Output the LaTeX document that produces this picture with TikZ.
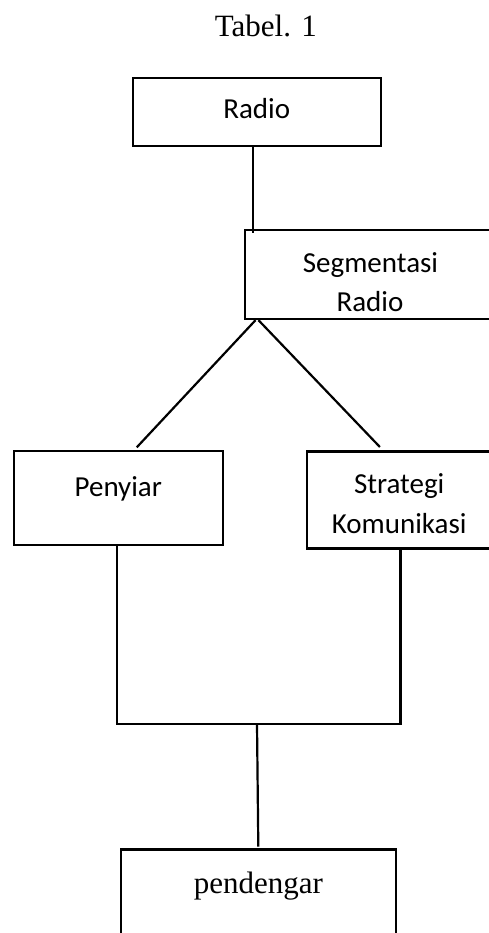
\documentclass[tikz,border=0pt]{standalone}
\usepackage{fontspec}
\setmainfont{Liberation Serif}
\newfontfamily\calibfont{Carlito}
\usetikzlibrary{calc}
\begin{document}
\begin{tikzpicture}[x=1pt,y=-1pt,
  box/.style={draw, line width=2.3pt, rectangle, inner sep=0pt, outer sep=0pt},
  conn/.style={line width=2.2pt, line join=miter},
  sans/.style={inner sep=0pt, anchor=base, font=\calibfont\fontsize{29}{35}\selectfont},
  serif/.style={inner sep=0pt, anchor=base, font=\fontsize{31}{37}\selectfont}]
\useasboundingbox (0,0) rectangle (489,933);
\clip (0,0) rectangle (489,933);
\fill[white] (0,0) rectangle (489,933);

% title
\node[serif] (title) at (265.8,36.7) {Tabel. 1};

% boxes
\node[box, minimum width=248pt, minimum height=68pt] (radio) at (256.7,112) {};
\node[box, minimum width=250pt, minimum height=89pt] (seg) at (370,274.7) {};
\node[box, minimum width=209pt, minimum height=94pt] (peny) at (118.7,497.9) {};
\node[box, minimum width=186pt, minimum height=97pt] (strat) at (399.9,500) {};
\node[box, minimum width=275pt, minimum height=111pt] (pend) at (258.2,905) {};

% texts
\node[sans] (radiot) at ($(radio.center)+(0,7)$) {Radio};
\node[sans] (segt1) at ($(seg.center)+(0.5,-2.2)$) {Segmentasi};
\node[sans] (segt2) at ($(seg.center)+(0,36.3)$) {Radio};
\node[sans] (penyt) at ($(peny.center)+(-0.4,-1.2)$) {Penyiar};
\node[sans] (stratt1) at ($(strat.center)+(-0.7,-6.7)$) {Strategi};
\node[sans] (stratt2) at ($(strat.center)+(-0.7,33)$) {Komunikasi};
\node[serif] (pendt) at ($(pend.north)+(0.1,44)$) {pendengar};

% connectors
\draw[conn] ($(radio.south)+(-3.4,0)$) -- ($(radio.south |- seg.north)+(-3.4,3)$);
\draw[conn] ($(seg.south west)+(10.5,1)$) -- ($(peny.north)+(18,-3.5)$);
\draw[conn] ($(seg.south west)+(13.5,1)$) -- ($(strat.north)+(-20,-4.5)$);
\coordinate (join) at (257,724);
\draw[conn] ($(peny.south)+(-1.5,0)$) -- ($(peny.south |- join)+(-1.5,0)$)
  -- ($(strat.south |- join)+(0.5,0)$) -- ($(strat.south)+(0.5,0)$);
\draw[conn] (join) -- ($(pend.north)+(0.1,-3)$);
\end{tikzpicture}
\end{document}
